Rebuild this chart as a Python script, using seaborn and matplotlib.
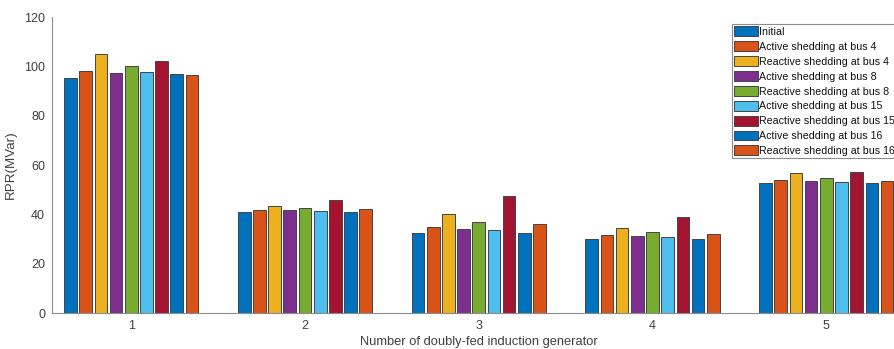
import matplotlib
matplotlib.use("Agg")
import matplotlib.pyplot as plt
import seaborn as sns
import pandas as pd

groups = ["1", "2", "3", "4", "5"]
series = ["Initial", "Active shedding at bus 4", "Reactive shedding at bus 4",
          "Active shedding at bus 8", "Reactive shedding at bus 8",
          "Active shedding at bus 15", "Reactive shedding at bus 15",
          "Active shedding at bus 16", "Reactive shedding at bus 16"]
initial = [95.4, 40.9, 32.3, 30.0, 52.6]
active4 = [98.2, 41.9, 34.7, 31.5, 53.8]
reactive4 = [105.0, 43.4, 40.0, 34.6, 56.6]
active8 = [97.2, 41.6, 34.2, 31.2, 53.4]
reactive8 = [100.0, 42.4, 36.9, 32.7, 54.7]
active15 = [97.6, 41.5, 33.8, 31.0, 53.2]
reactive15 = [102.0, 45.8, 47.3, 38.9, 57.0]
active16 = [97.0, 41.1, 32.4, 30.1, 52.7]
reactive16 = [96.6, 42.2, 35.9, 32.2, 53.5]
values = [initial, active4, reactive4, active8, reactive8,
          active15, reactive15, active16, reactive16]
colors = ["#0072BD", "#D95319", "#EDB120", "#7E2F8E", "#77AC30",
          "#4DBEEE", "#A2142F", "#0072BD", "#D95319"]

rows = []
for s, vals in zip(series, values):
    for g, v in zip(groups, vals):
        rows.append({"group": g, "series": s, "value": v})
df = pd.DataFrame(rows)

sns.set_style("white")
plt.rcParams["font.family"] = ["Liberation Sans", "DejaVu Sans"]

fig = plt.figure(figsize=(8.94, 3.49), dpi=100)
ax = fig.add_axes([52/894, 36/349, 853.5/894, 296/349])
sns.barplot(data=df, x="group", y="value", hue="series", order=groups,
            hue_order=series, palette=colors, width=0.787, gap=0.165,
            edgecolor="#444444", linewidth=0.7, saturation=1, ax=ax,
            legend=True, errorbar=None)

ax.set_axisbelow(False)
ax.set_xlim(-0.456, 4.456)
ax.set_ylim(0, 120)
ax.set_yticks(range(0, 121, 20))
txtc = "#404040"
ax.tick_params(axis="both", direction="in", length=5.5, width=0.7,
               color="#555555", labelsize=9.0, labelcolor=txtc, pad=5)
for side in ["top", "right"]:
    ax.spines[side].set_visible(False)
for side in ["left", "bottom"]:
    ax.spines[side].set_color("#8c8c8c")
    ax.spines[side].set_linewidth(0.8)
ax.set_ylabel("RPR(MVar)", fontsize=9.6, color=txtc, labelpad=5)
ax.set_xlabel("Number of doubly-fed induction generator", fontsize=9.3,
              color=txtc, labelpad=3)

leg = ax.legend(loc="upper left", bbox_to_anchor=(732/894, 1 - 24/349),
                bbox_transform=fig.transFigure, fontsize=7.7, frameon=True,
                fancybox=False, framealpha=1, edgecolor="#8c8c8c",
                handlelength=2.2, handleheight=1.05, handletextpad=0.15,
                labelspacing=0.4, borderpad=0.22, borderaxespad=0)
leg.get_frame().set_linewidth(0.8)
for t in leg.get_texts():
    t.set_color("#111111")

fig.savefig("out.png", dpi=100)
